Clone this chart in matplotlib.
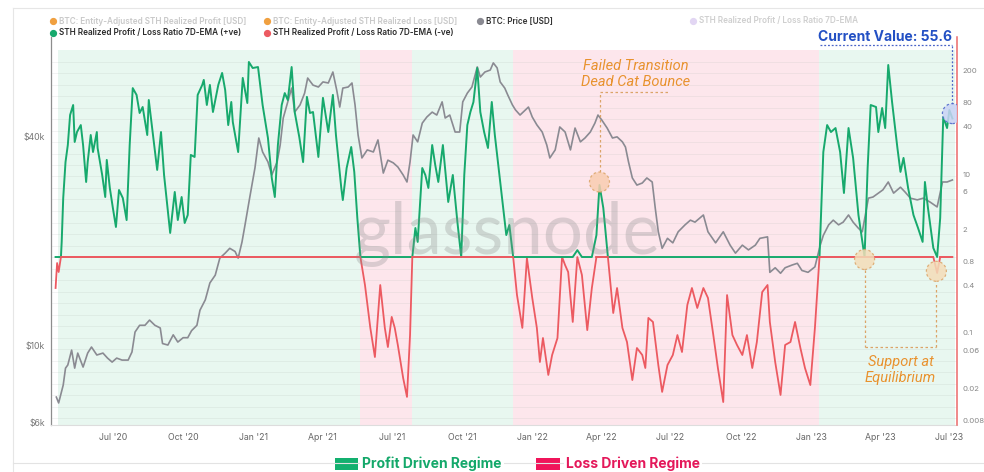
import numpy as np
import matplotlib
matplotlib.use('Agg')
import matplotlib.pyplot as plt
import matplotlib.dates as mdates
from matplotlib.patches import Circle, Rectangle
from matplotlib.lines import Line2D
from matplotlib.transforms import ScaledTranslation
from matplotlib.ticker import FixedLocator, FixedFormatter, NullLocator

plt.rcParams['font.family'] = ['Inter', 'DejaVu Sans']

BASE = np.datetime64('2020-04-01')

# ---------------- data (days since 2020-04-01) ----------------
price_day = [17,20,26,29,32,37,41,45,52,58,
             63,70,78,84,90,96,103,111,116,120,
             126,133,139,146,153,156,163,170,176,183,
             189,194,201,205,212,218,225,231,238,244,
             251,255,260,264,270,277,282,287,294,299,
             306,310,314,320,325,329,336,342,346,353,
             360,366,373,379,384,388,392,399,404,408,
             412,417,424,432,438,445,451,458,464,471,
             476,480,484,490,496,502,509,515,522,526,
             532,539,545,549,555,561,568,572,578,585,
             589,594,598,604,608,614,618,624,631,635,
             640,646,653,659,663,670,676,683,690,696,
             703,709,716,722,726,731,738,745,751,758,
             762,766,771,777,784,790,797,801,805,810,
             817,824,831,840,847,853,864,870,880,890,
             899,906,915,923,932,938,948,951,958,965,
             971,980,987,993,1001,1010,1017,1021,1028,1034,
             1041,1047,1054,1060,1067,1072,1076,1080,1086,1093,
             1099,1106,1113,1122,1128,1135,1144,1152,1161,1170,
             1177,1183,1190]
price_k = [7.08,6.81,7.67,8.58,8.76,9.67,8.58,9.48,8.64,9.48,
           9.87,9.36,9.48,9.17,8.93,9.17,9.05,9.05,9.55,10.9,
           11.4,11.4,11.8,11.4,11.2,10.1,10.0,10.7,10.2,10.5,
           10.5,11.0,11.4,12.6,13.5,15.1,15.9,17.8,18.4,19.0,
           18.6,17.8,19.8,22.2,26.5,32.4,39.5,36.0,33.7,30.9,
           33.7,37.7,45.1,50.2,55.0,46.9,49.2,53.2,58.8,56.1,
           55.4,57.3,56.9,61.2,54.3,48.5,55.0,55.4,56.9,49.2,
           40.3,34.6,36.5,36.0,39.0,31.3,34.1,33.5,32.6,30.9,
           29.5,33.7,40.3,38.5,43.6,45.4,46.9,46.0,50.2,45.1,
           46.0,41.1,41.1,50.2,53.2,55.4,63.3,59.2,61.2,62.0,
           65.0,62.9,57.3,55.0,52.5,49.2,47.6,46.0,47.6,48.5,
           45.4,43.1,41.1,37.7,34.6,36.5,42.5,41.1,36.5,42.2,
           38.5,39.5,41.1,43.6,46.0,44.5,42.2,39.5,39.8,38.5,
           37.2,33.7,30.3,28.9,29.3,30.3,29.5,24.8,21.2,19.0,
           20.3,19.7,21.2,22.2,22.9,22.6,23.7,21.2,19.7,21.2,
           19.4,18.4,19.4,18.8,19.4,20.3,20.5,16.2,16.7,16.1,
           16.7,17.0,17.2,16.4,16.2,16.8,19.4,20.7,22.2,22.9,
           22.2,22.6,23.7,22.6,21.7,21.2,23.7,26.5,26.7,27.4,
           28.0,29.5,27.4,28.5,27.6,26.5,26.2,26.5,25.8,25.0,
           29.5,29.5,29.9]

ratio_day = [16,18,20,23,24,26,29,32,35,39,
             41,44,49,52,56,58,62,65,70,71,
             77,81,83,87,91,95,99,104,109,113,
             117,122,126,130,136,138,143,149,154,158,
             166,172,176,181,185,189,193,198,202,208,
             210,214,218,222,229,234,238,242,246,248,
             255,261,267,269,274,281,287,294,299,303,
             307,312,316,320,325,329,335,340,345,349,
             353,360,366,373,379,383,390,392,397,403,
             407,411,415,421,428,434,441,447,451,456,
             460,464,471,476,480,483,487,490,496,500,
             504,509,513,517,523,530,536,542,547,551,
             555,559,563,568,572,577,582,587,591,598,
             606,610,615,620,627,633,640,646,650,654,
             661,666,673,679,683,687,693,699,705,712,
             718,724,728,733,739,746,751,758,764,771,
             777,784,788,792,798,805,810,817,824,830,
             836,843,849,856,864,870,877,883,890,895,
             902,908,915,921,928,934,941,948,951,958,
             965,971,978,984,991,997,1004,1010,1016,1021,
             1026,1031,1037,1043,1048,1054,1060,1067,1075,1079,
             1083,1090,1093,1098,1102,1106,1111,1118,1122,1126,
             1132,1139,1145,1151,1154,1158,1165,1170,1174,1178,
             1183,1186,1190]
ratio_val = [0.407,0.84,0.647,1.0,1.55,5.53,15.7,25.7,61.4,82.1,
             28.1,37.5,45.9,25.7,8.81,15.7,34.4,21.0,37.5,23.6,
             10.8,5.70,16.7,7.40,4.14,2.39,6.98,5.53,2.92,25.7,
             134,110,65.1,77.5,34.4,94.9,37.5,12.5,37.5,10.8,
             2.01,6.59,2.92,5.70,2.68,3.38,19.3,18.2,110,147,
             170,82.1,147,67.0,147,208,127,45.9,89.6,50.1,
             21.0,180,87.0,286,240,247,82.1,31.5,9.89,5.70,
             25.7,82.1,116,94.9,247,67.0,32.5,15.7,104,65.1,
             67.0,18.2,101,37.5,110,34.4,7.40,5.22,13.2,24.3,
             11.8,3.10,1.0,0.444,0.128,0.055,0.444,0.128,0.0735,0.176,
             0.128,0.078,0.0299,0.0173,0.104,1.0,2.32,1.55,13.2,10.8,
             7.40,25.7,14.4,8.81,25.7,4.93,10.8,2.76,1.0,10.8,
             45.9,67.0,89.6,240,67.0,37.5,23.6,89.6,34.4,8.81,
             1.89,2.53,1.0,0.332,0.128,0.97,0.305,0.128,0.0476,0.0955,
             0.0327,0.0583,0.0955,1.0,0.79,0.647,0.152,1.22,0.593,0.120,
             0.407,1.89,8.07,4.14,1.0,0.197,0.407,0.128,0.085,0.0282,
             0.0714,0.0583,0.0400,0.171,0.152,0.0436,0.0200,0.0436,0.0583,0.104,
             0.0636,0.249,0.407,0.228,0.407,0.305,0.104,0.0400,0.0149,0.332,
             0.104,0.078,0.0583,0.104,0.0400,0.085,0.362,0.444,0.152,0.0476,
             0.0183,0.078,0.085,0.152,0.0714,0.0400,0.0244,0.128,1.0,21.0,
             45.9,37.5,42.1,21.0,6.40,42.1,17.7,3.38,1.0,13.2,
             82.1,77.5,37.5,75.3,42.1,262,89.6,23.6,11.8,17.7,
             7.40,3.38,2.32,1.55,8.81,4.14,1.30,0.629,3.10,58.0,
             42.1,71.0,55.6]

profit_regimes = [(19, 415), (483, 615), (1016, 1193)]
loss_regimes = [(415, 483), (615, 1016)]

price_ticks = [6000, 10000, 40000]
price_tick_labels = ['$6k', '$10k', '$40k']
ratio_ticks = [0.008, 0.02, 0.06, 0.1, 0.4, 0.8, 2, 6, 10, 40, 80, 200]
ratio_tick_labels = ['0.008', '0.02', '0.06', '0.1', '0.4', '0.8', '2', '6', '10', '40', '80', '200']
x_tick_dates = ['2020-07-01', '2020-10-01', '2021-01-01', '2021-04-01', '2021-07-01',
                '2021-10-01', '2022-01-01', '2022-04-01', '2022-07-01', '2022-10-01',
                '2023-01-01', '2023-04-01', '2023-07-01']
x_tick_labels = ["Jul '20", "Oct '20", "Jan '21", "Apr '21", "Jul '21", "Oct '21", "Jan '22",
                 "Apr '22", "Jul '22", "Oct '22", "Jan '23", "Apr '23", "Jul '23"]
current_value = 55.6


def D(d):
    return BASE + np.asarray(d).astype('timedelta64[D]')


# ---------------- figure ----------------
W, H = 984, 472
fig = plt.figure(figsize=(W / 100, H / 100), dpi=100)
fig.patch.set_facecolor('white')


def P(x, y):
    return x / W, 1 - y / H


ax = fig.add_axes([51 / W, 1 - 425 / H, 906 / W, 388 / H])
ax.set_facecolor('white')
ax.set_yscale('log')
ax.set_ylim(5883, 77200)
ax.set_xlim(D(10), D(1196))

ax2 = ax.twinx()
ax2.set_yscale('log')
ax2.set_ylim(0.00766, 590)

GREEN_BG = '#e8f7f0'
PINK_BG = '#fde6ec'
top_frac = (425 - 50) / 388
for a, b in profit_regimes:
    ax.axvspan(D(a), D(b), ymin=0, ymax=top_frac, color=GREEN_BG, lw=0, zorder=0)
for a, b in loss_regimes:
    ax.axvspan(D(a), D(b), ymin=0, ymax=top_frac, color=PINK_BG, lw=0, zorder=0)

# faint horizontal grid
eq_frac = (425 - 257) / 388
for f in eq_frac + np.arange(-14, 18) * 11.5 / 388:
    if 0.01 < f < top_frac - 0.01:
        ax.plot([0, 1], [f, f], transform=ax.transAxes, color='#9aa7a0', alpha=0.13, lw=0.7, zorder=0.5)

# price
ax.plot(D(price_day), np.array(price_k) * 1000, color='#8a8a92', lw=1.2, zorder=2)

# ratio split into +ve / -ve series
r = np.array(ratio_val)
pos = np.maximum(r, 1.0)
neg = np.minimum(r, 1.0)
ax2.plot(D(ratio_day), neg, color='#ec5a61', lw=1.3, zorder=3)
ax2.plot(D(ratio_day), pos, color='#17a96d', lw=1.4, zorder=4)
ax2.plot(D(ratio_day), np.where(r >= 1.0, 1.0, np.nan), color='#ec5a61', lw=1.3, zorder=4.5)

# axes styling
for s in ['top', 'right']:
    ax.spines[s].set_visible(False)
ax.spines['left'].set_color('#8d8d8d')
ax.spines['left'].set_linewidth(0.9)
ax.spines['bottom'].set_color('#dddddd')
ax.spines['bottom'].set_linewidth(0.8)
for s in ['top', 'left', 'bottom']:
    ax2.spines[s].set_visible(False)
ax2.spines['right'].set_color('#ec6a6a')
ax2.spines['right'].set_linewidth(1.1)

ax.yaxis.set_major_locator(FixedLocator(price_ticks))
ax.yaxis.set_major_formatter(FixedFormatter(price_tick_labels))
ax.yaxis.set_minor_locator(NullLocator())
ax.tick_params(axis='y', length=0, pad=4.5, labelsize=6.3, labelcolor='#777777')

ax2.yaxis.set_major_locator(FixedLocator(ratio_ticks))
ax2.yaxis.set_major_formatter(FixedFormatter(ratio_tick_labels))
ax2.yaxis.set_minor_locator(NullLocator())
ax2.tick_params(axis='y', length=0, pad=4.0, labelsize=5.6, labelcolor='#888888')
off = ScaledTranslation(0, 3.5 / 100, fig.dpi_scale_trans)
for t in ax2.yaxis.get_major_ticks():
    t.label2.set_transform(t.label2.get_transform() + off)

ax.set_xticks(D([(np.datetime64(s) - BASE).astype(int) for s in x_tick_dates]))
ax.set_xticklabels(x_tick_labels)
ax.tick_params(axis='x', length=0, pad=6, labelsize=6.3, labelcolor='#666666')
ax2.set_xlim(ax.get_xlim())

# ---------------- annotations ----------------
ORANGE = '#e8922e'
ODOT = '#dba468'


def add_ring(axis, d, val, rad_px, face, edge):
    x_num = mdates.date2num(D(d))
    tr = fig.dpi_scale_trans + ScaledTranslation(x_num, val, axis.transData)
    c = Circle((0, 0), rad_px / 100, transform=tr, facecolor=face, edgecolor=edge,
               lw=0.9, linestyle=(0, (2, 2)), zorder=6, alpha=0.85)
    axis.add_artist(c)


# Failed transition
add_ring(ax2, 728, 8.8, 10, '#f9cdb0', ODOT)
ax2.plot(D([729, 729]), [11.6, 120], color=ODOT, lw=0.9, ls=(0, (2, 2)), zorder=5)
ax2.plot(D([729, 818]), [120, 120], color=ODOT, lw=0.9, ls=(0, (2, 2)), zorder=5)
ax2.text(D(775), 202, 'Failed Transition\nDead Cat Bounce', ha='center', va='center',
         color=ORANGE, fontsize=10.5, style='italic', family=['Roboto', 'DejaVu Sans'],
         linespacing=1.15, zorder=7)

# Support at equilibrium
add_ring(ax2, 1075, 0.93, 10, '#f4dcb8', ODOT)
add_ring(ax2, 1169, 0.66, 10, '#f4dcb8', ODOT)
ax2.plot(D([1075, 1075]), [0.69, 0.0735], color=ODOT, lw=0.9, ls=(0, (2, 2)), zorder=5)
ax2.plot(D([1075, 1169]), [0.0735, 0.0735], color=ODOT, lw=0.9, ls=(0, (2, 2)), zorder=5)
ax2.plot(D([1169, 1169]), [0.0735, 0.48], color=ODOT, lw=0.9, ls=(0, (2, 2)), zorder=5)
ax2.text(D(1122), 0.0375, 'Support at\nEquilibrium', ha='center', va='center',
         color=ORANGE, fontsize=10.5, style='italic', family=['Roboto', 'DejaVu Sans'],
         linespacing=1.15, zorder=7)

# Current value
add_ring(ax2, 1190, 64, 10, '#c9d3f5', '#4a63c8')
ax2.plot(D([1190, 1190]), [85, 470], color='#4a63c8', lw=0.9, ls=(0, (1.5, 1.5)), zorder=5,
         clip_on=False)
fig.text(*P(952, 37), 'Current Value: %.1f' % current_value, ha='right', va='center',
         fontsize=10, fontweight='bold', color='#2350c4')
fig.add_artist(Line2D([820 / W, 952 / W], [1 - 45 / H, 1 - 45 / H], transform=fig.transFigure,
                      color='#4a63c8', lw=0.9, ls=(0, (1.5, 1.5))))

# watermark
fig.text(*P(507, 234), 'glassnode', ha='center', va='center', fontsize=51,
         color='#8c8c8c', alpha=0.3, family=['Lato', 'DejaVu Sans'], zorder=10)

# ---------------- card frame & legends ----------------
fig.add_artist(Line2D([13 / W, 13 / W], [0, 1 - 8 / H], transform=fig.transFigure, color='#e6e6e6', lw=0.8))
fig.add_artist(Line2D([13 / W, 1], [1 - 8 / H, 1 - 8 / H], transform=fig.transFigure, color='#e6e6e6', lw=0.8))
fig.add_artist(Line2D([13 / W, 1], [1 - 463 / H, 1 - 463 / H], transform=fig.transFigure, color='#e3e3e3', lw=0.8))

leg_items = [
    (53, 21, '#f0a040', 'BTC: Entity-Adjusted STH Realized Profit [USD]', '#c9c9c9'),
    (267, 21, '#f0a040', 'BTC: Entity-Adjusted STH Realized Loss [USD]', '#c9c9c9'),
    (480, 21, '#8a8a92', 'BTC: Price [USD]', '#333333'),
    (693, 21, '#e2d6f3', 'STH Realized Profit / Loss Ratio 7D-EMA', '#cfcfcf'),
    (53, 32.5, '#17a96d', 'STH Realized Profit / Loss Ratio 7D-EMA (+ve)', '#2b2b2b'),
    (267, 32.5, '#ec5a61', 'STH Realized Profit / Loss Ratio 7D-EMA (-ve)', '#2b2b2b'),
]
for x, y, c, txt, tc in leg_items:
    fig.add_artist(Line2D([x / W], [1 - y / H], marker='o', ms=4.2, color=c, lw=0,
                          transform=fig.transFigure))
    fig.text(*P(x + 6, y), txt, ha='left', va='center', fontsize=5.9, color=tc, fontweight='semibold')

# bottom regime legend
fig.add_artist(Rectangle((335 / W, 1 - 470 / H), 23 / W, 12 / H, transform=fig.transFigure,
                         facecolor='#13b06f', edgecolor='none'))
fig.text(*P(362, 464), 'Profit Driven Regime', ha='left', va='center', fontsize=10,
         fontweight='bold', color='#14a86a',
         bbox=dict(facecolor='white', edgecolor='none', pad=1.5))
fig.add_artist(Rectangle((536 / W, 1 - 470 / H), 24 / W, 12 / H, transform=fig.transFigure,
                         facecolor='#f0145a', edgecolor='none'))
fig.text(*P(566, 464), 'Loss Driven Regime', ha='left', va='center', fontsize=10,
         fontweight='bold', color='#e4185a',
         bbox=dict(facecolor='white', edgecolor='none', pad=1.5))

fig.savefig('out.png', dpi=100, facecolor='white')
